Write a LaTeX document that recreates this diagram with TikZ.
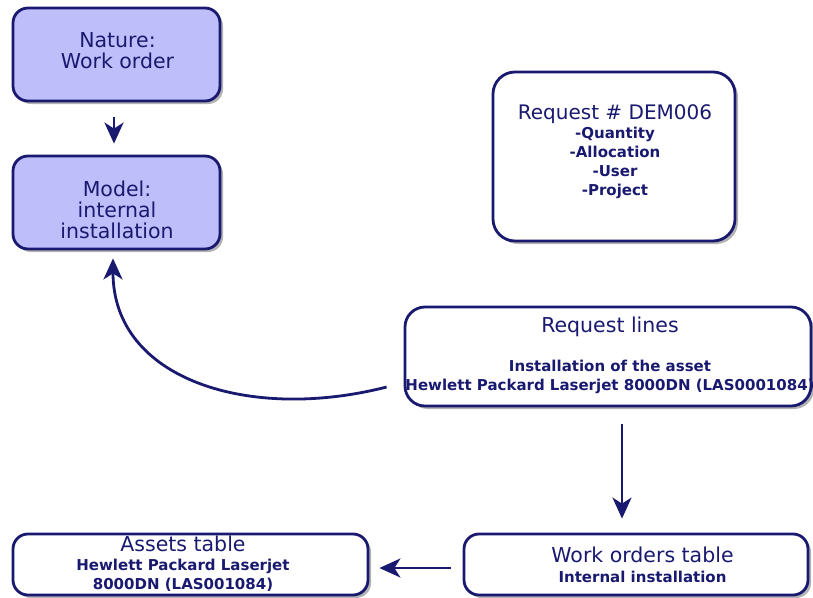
\documentclass[tikz,border=0pt]{standalone}
\usepackage{fontspec}
\setmainfont{DejaVu Sans}
\usetikzlibrary{shadows,arrows.meta,calc}
\definecolor{navy}{RGB}{25,25,112}
\definecolor{lav}{RGB}{190,190,250}
\begin{document}
\begin{tikzpicture}[x=1pt,y=-1pt,
  box/.style={draw=navy, line width=2.8pt, rounded corners=15pt, fill=white,
    drop shadow={shadow xshift=3pt, shadow yshift=-3pt, opacity=0.3, fill=black}},
  titletxt/.style={text=navy, align=center, inner sep=0pt, font=\fontsize{20.5}{21}\selectfont},
  boldtxt/.style={text=navy, align=center, inner sep=0pt, font=\bfseries\fontsize{15}{19}\selectfont},
  arr/.style={draw=navy, line width=2.8pt, -{Stealth[length=21pt,width=19pt,inset=6pt]}}]
\fill[white] (0,0) rectangle (813,597);
\useasboundingbox (0,0) rectangle (813,597);

% boxes
\node[box, fill=lav, minimum width=207pt, minimum height=93pt] (nature) at (116.5,54.5) {};
\node[box, fill=lav, minimum width=207pt, minimum height=93pt] (model) at (116.5,202.5) {};
\node[box, rounded corners=22pt, minimum width=242pt, minimum height=169pt] (req) at (614,156.5) {};
\node[box, rounded corners=20pt, minimum width=406pt, minimum height=99pt] (lines) at (608,356.5) {};
\node[box, minimum width=344pt, minimum height=61pt] (wo) at (636,564.5) {};
\node[box, minimum width=355pt, minimum height=61pt] (assets) at (190.5,564.5) {};

% texts
\node[titletxt] (natureT) at (117.5,51) {Nature:\\Work order};
\node[titletxt] (modelT) at (117,210) {Model:\\internal\\installation};
\node[boldtxt] (reqT) at (615,152) {{\mdseries\fontsize{20}{19}\selectfont Request \# DEM006}\\-Quantity\\-Allocation\\-User\\-Project};
\node[boldtxt] (linesT) at (610,355) {{\mdseries\fontsize{20.5}{19}\selectfont Request lines}\\[20pt]Installation of the asset\\Hewlett Packard Laserjet 8000DN (LAS0001084)};
\node[boldtxt, font=\bfseries\fontsize{15}{20}\selectfont] (woT) at (642.5,565) {{\mdseries\fontsize{20.5}{19}\selectfont Work orders table}\\Internal installation};
\node[boldtxt] (assetsT) at (183,564) {{\mdseries\fontsize{20.5}{19}\selectfont Assets table}\\Hewlett Packard Laserjet\\8000DN (LAS001084)};

% connectors
\draw[arr] ($(nature.south)+(-2.5,15)$) -- ($(model.north)+(-2.5,-11)$);
\draw[arr] ($(lines.west)+(-17,30.5)$) .. controls (250,422) and (113,380) .. ($(model.south)+(-3.5,8)$);
\draw[arr] ($(lines.south)+(14,17)$) -- ($(wo.north)+(-14,-14)$);
\draw[arr] ($(wo.west)+(-12,3.5)$) -- ($(assets.east)+(10,3.5)$);
\end{tikzpicture}
\end{document}
